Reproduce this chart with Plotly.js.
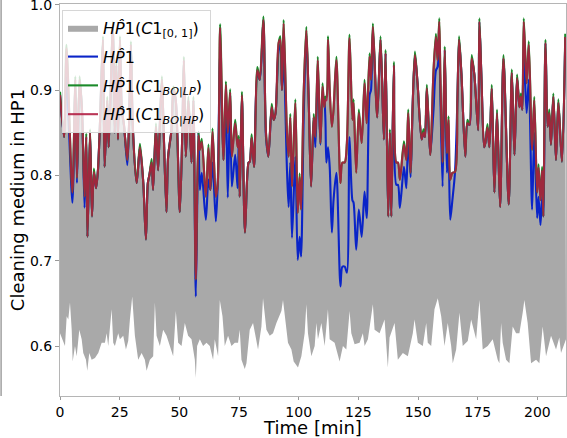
<!DOCTYPE html>
<html>
<head>
<meta charset="utf-8">
<script src="https://cdn.plot.ly/plotly-3.0.1.min.js"></script>
<style>html,body{margin:0;padding:0;background:#fff}#chart{width:567px;height:438px}</style>
</head>
<body>
<div id="chart"></div>
<script>
// Time [min] for the model curves
const time = [0, 1.7, 2.7, 5.2, 6.4, 7.1, 8.2, 9.2, 10.3, 11.0, 11.5, 12.6, 13.4, 14.2, 15.1, 15.9, 16.7, 18.0, 18.7, 19.8, 20.4, 22.2, 22.9, 23.6, 24.3, 25.1, 25.9, 26.8, 28.2, 28.9, 29.7, 30.5, 32.1, 33.5, 34.9, 36.0, 36.8, 37.5, 38.4, 39.0, 40.2, 41.1, 41.8, 42.7, 43.3, 44.6, 45.3, 46.7, 47.5, 48.5, 50.2, 51.3, 51.9, 52.7, 53.8, 55.1, 55.9, 56.9, 58.0, 58.6, 59.4, 61.1, 62.2, 63.0, 63.9, 65.3, 66.1, 67.1, 68.5, 69.5, 70.3, 71.3, 72.0, 73.4, 74.4, 74.9, 75.3, 76.2, 77.5, 79.0, 79.5, 80.3, 81.3, 82.7, 83.7, 85.2, 86.3, 87.3, 88.7, 89.5, 90.3, 91.6, 92.3, 93.0, 93.7, 95.1, 95.8, 96.5, 97.2, 98.6, 99.6, 100.4, 101.0, 102.1, 103.2, 104.2, 105.2, 106.3, 107.0, 108.0, 109.1, 110.0, 110.7, 111.2, 111.6, 112.3, 113.0, 113.9, 114.6, 115.8, 117.5, 118.3, 119.3, 120.2, 121.3, 122.5, 123.0, 124.1, 125.2, 126.4, 127.6, 128.5, 129.7, 130.3, 131.1, 132.9, 134.3, 135.7, 136.4, 137.5, 138.2, 138.8, 139.9, 140.9, 141.6, 142.4, 144.1, 145.1, 145.9, 146.9, 147.7, 148.7, 149.8, 151.5, 152.3, 152.9, 153.7, 155.1, 156.5, 157.5, 158.2, 158.9, 159.4, 160.3, 161.2, 162.1, 162.8, 163.5, 164.4, 165.5, 166.5, 167.2, 168.2, 169.8, 170.7, 171.6, 172.5, 173.6, 175.2, 175.7, 176.6, 177.7, 178.2, 179.1, 179.9, 180.9, 182.0, 183.1, 184.4, 185.8, 188.0, 189.3, 190.4, 191.5, 192.5, 193.1, 193.7, 194.3, 195.5, 196.4, 197.8, 198.7, 199.9, 200.5, 201.3, 202.0, 202.5, 203.4, 204.3, 205.0, 205.7, 206.7, 207.8, 208.8, 210.3, 211.7];

// HP1 (C1 BO|HP) – red
const hpBOHP = [0.894, 0.845, 0.949, 0.780, 0.912, 0.797, 0.912, 0.877, 0.775, 0.845, 0.728, 0.850, 0.752, 0.804, 0.785, 0.806, 0.857, 0.959, 0.810, 0.888, 0.833, 0.976, 0.850, 0.929, 0.842, 0.959, 0.877, 0.859, 0.818, 0.857, 0.953, 0.857, 0.791, 0.833, 0.791, 0.725, 0.791, 0.801, 0.815, 0.783, 0.857, 0.806, 0.857, 0.912, 0.865, 0.757, 0.822, 0.853, 0.900, 0.888, 0.757, 0.857, 0.935, 0.822, 0.888, 0.815, 0.888, 0.678, 0.847, 0.830, 0.839, 0.775, 0.832, 0.783, 0.851, 0.775, 0.791, 0.973, 0.818, 0.906, 0.850, 0.897, 0.822, 0.861, 0.833, 0.842, 0.775, 0.894, 0.733, 0.815, 0.816, 0.844, 0.810, 0.923, 0.912, 0.982, 0.850, 0.822, 0.880, 0.865, 0.873, 0.955, 0.959, 0.900, 0.978, 0.850, 0.822, 0.868, 0.787, 0.885, 0.756, 0.798, 0.760, 0.897, 0.970, 0.888, 0.787, 0.868, 0.845, 0.935, 0.838, 0.904, 0.880, 0.888, 0.888, 0.959, 0.900, 0.857, 0.877, 0.935, 0.791, 0.815, 0.815, 0.838, 0.961, 0.865, 0.885, 0.803, 0.873, 0.838, 0.908, 0.861, 0.939, 0.912, 0.974, 0.868, 0.959, 0.842, 0.943, 0.752, 0.850, 0.752, 0.929, 0.815, 0.815, 0.795, 0.836, 0.818, 0.873, 0.803, 0.877, 0.941, 0.908, 0.842, 0.850, 0.845, 0.902, 0.824, 0.923, 0.962, 0.935, 0.980, 0.912, 0.815, 0.947, 0.826, 0.865, 0.795, 0.803, 0.804, 0.888, 0.959, 0.918, 0.822, 0.861, 0.859, 0.937, 0.918, 0.853, 0.980, 0.912, 0.833, 0.838, 0.856, 0.833, 0.902, 0.780, 0.873, 0.763, 0.937, 0.766, 0.920, 0.824, 0.914, 0.880, 0.892, 0.877, 0.980, 0.908, 0.953, 0.830, 0.888, 0.780, 0.809, 0.771, 0.806, 0.752, 0.955, 0.857, 0.873, 0.836, 0.892, 0.818, 0.885, 0.816, 0.962];

// HP1 (C1 BO|LP) – green
const hpBOLP = [0.898, 0.845, 0.953, 0.780, 0.916, 0.797, 0.916, 0.877, 0.775, 0.849, 0.728, 0.854, 0.752, 0.808, 0.785, 0.806, 0.857, 0.963, 0.810, 0.892, 0.833, 0.980, 0.850, 0.933, 0.842, 0.963, 0.877, 0.859, 0.818, 0.857, 0.957, 0.857, 0.791, 0.837, 0.791, 0.725, 0.791, 0.801, 0.819, 0.783, 0.861, 0.806, 0.857, 0.916, 0.865, 0.757, 0.822, 0.853, 0.904, 0.888, 0.757, 0.857, 0.939, 0.822, 0.892, 0.815, 0.892, 0.678, 0.851, 0.830, 0.843, 0.775, 0.836, 0.783, 0.855, 0.775, 0.791, 0.977, 0.818, 0.910, 0.850, 0.901, 0.822, 0.865, 0.833, 0.846, 0.775, 0.898, 0.733, 0.815, 0.816, 0.848, 0.810, 0.927, 0.912, 0.986, 0.850, 0.822, 0.884, 0.865, 0.873, 0.955, 0.963, 0.900, 0.982, 0.850, 0.822, 0.872, 0.787, 0.889, 0.756, 0.802, 0.760, 0.897, 0.974, 0.888, 0.787, 0.872, 0.845, 0.939, 0.838, 0.908, 0.880, 0.892, 0.892, 0.963, 0.900, 0.857, 0.877, 0.939, 0.791, 0.815, 0.815, 0.838, 0.965, 0.865, 0.889, 0.803, 0.877, 0.838, 0.912, 0.861, 0.943, 0.912, 0.978, 0.868, 0.963, 0.842, 0.947, 0.752, 0.854, 0.752, 0.933, 0.815, 0.815, 0.795, 0.840, 0.818, 0.877, 0.803, 0.877, 0.945, 0.908, 0.842, 0.854, 0.845, 0.906, 0.824, 0.923, 0.966, 0.935, 0.984, 0.912, 0.815, 0.951, 0.826, 0.869, 0.795, 0.803, 0.804, 0.888, 0.963, 0.918, 0.822, 0.865, 0.859, 0.941, 0.918, 0.853, 0.984, 0.912, 0.833, 0.838, 0.860, 0.833, 0.906, 0.780, 0.877, 0.763, 0.941, 0.766, 0.924, 0.824, 0.918, 0.880, 0.896, 0.877, 0.984, 0.908, 0.957, 0.830, 0.892, 0.780, 0.813, 0.771, 0.810, 0.752, 0.959, 0.857, 0.877, 0.836, 0.896, 0.818, 0.889, 0.816, 0.966];

// HP1 – blue
const hpBase = [0.894, 0.845, 0.915, 0.768, 0.912, 0.791, 0.912, 0.877, 0.762, 0.845, 0.728, 0.850, 0.752, 0.804, 0.785, 0.806, 0.857, 0.959, 0.810, 0.888, 0.833, 0.976, 0.850, 0.929, 0.842, 0.959, 0.877, 0.859, 0.812, 0.857, 0.953, 0.857, 0.791, 0.833, 0.791, 0.725, 0.791, 0.801, 0.815, 0.783, 0.857, 0.806, 0.857, 0.912, 0.865, 0.757, 0.822, 0.853, 0.900, 0.888, 0.757, 0.857, 0.935, 0.822, 0.888, 0.815, 0.888, 0.658, 0.851, 0.783, 0.803, 0.748, 0.795, 0.783, 0.815, 0.746, 0.791, 0.944, 0.818, 0.888, 0.774, 0.894, 0.787, 0.824, 0.785, 0.842, 0.775, 0.894, 0.733, 0.815, 0.816, 0.844, 0.810, 0.918, 0.912, 0.982, 0.845, 0.822, 0.880, 0.865, 0.873, 0.947, 0.953, 0.900, 0.939, 0.806, 0.763, 0.815, 0.727, 0.822, 0.701, 0.728, 0.705, 0.868, 0.964, 0.888, 0.787, 0.868, 0.833, 0.923, 0.836, 0.892, 0.888, 0.865, 0.815, 0.833, 0.810, 0.733, 0.771, 0.803, 0.670, 0.693, 0.693, 0.686, 0.845, 0.771, 0.768, 0.713, 0.760, 0.728, 0.781, 0.750, 0.894, 0.900, 0.970, 0.868, 0.959, 0.842, 0.943, 0.752, 0.850, 0.752, 0.929, 0.789, 0.789, 0.762, 0.810, 0.785, 0.847, 0.798, 0.877, 0.941, 0.908, 0.842, 0.850, 0.845, 0.902, 0.824, 0.877, 0.923, 0.927, 0.949, 0.888, 0.787, 0.947, 0.803, 0.830, 0.748, 0.771, 0.804, 0.888, 0.959, 0.918, 0.822, 0.861, 0.859, 0.937, 0.918, 0.853, 0.980, 0.912, 0.833, 0.838, 0.856, 0.833, 0.902, 0.780, 0.873, 0.763, 0.937, 0.766, 0.920, 0.824, 0.914, 0.880, 0.892, 0.877, 0.943, 0.873, 0.912, 0.760, 0.850, 0.750, 0.775, 0.742, 0.775, 0.752, 0.955, 0.857, 0.873, 0.836, 0.892, 0.818, 0.885, 0.816, 0.962];

// Lower edge of the C1[0,1] band
const bandTime = [0, 1.38, 2.09, 2.80, 3.47, 4.18, 4.90, 5.31, 6.28, 6.99, 8.08, 9.08, 9.75, 10.88, 11.42, 12.26, 13.26, 14.64, 16.03, 17.45, 18.83, 19.54, 20.21, 21.63, 22.30, 23.01, 24.39, 25.10, 26.49, 27.62, 28.58, 29.29, 30.25, 31.38, 32.76, 34.18, 35.56, 36.28, 37.66, 39.04, 39.75, 40.46, 41.84, 43.22, 44.64, 46.03, 47.41, 48.54, 49.50, 50.92, 52.30, 53.68, 55.10, 56.49, 56.90, 57.45, 58.58, 59.96, 61.38, 62.76, 64.14, 64.85, 66.23, 66.95, 68.08, 69.04, 70.42, 71.84, 73.22, 74.60, 75.31, 76.03, 77.41, 78.12, 79.50, 80.88, 82.97, 84.39, 85.06, 86.49, 87.87, 89.25, 90.67, 92.76, 93.43, 95.52, 96.95, 97.91, 99.71, 101.13, 102.51, 103.22, 103.89, 105.31, 106.70, 107.41, 108.08, 109.50, 110.88, 112.26, 112.97, 115.06, 116.44, 117.15, 118.54, 119.96, 121.34, 122.05, 123.43, 125.52, 126.90, 127.62, 129.00, 131.09, 131.80, 133.89, 135.98, 136.69, 137.36, 138.08, 140.17, 141.55, 143.64, 145.73, 147.82, 148.54, 149.92, 152.01, 153.43, 154.10, 155.52, 156.90, 158.28, 159.71, 161.09, 162.47, 163.89, 164.56, 165.98, 167.36, 168.74, 170.84, 172.26, 174.35, 175.73, 177.11, 179.21, 181.30, 183.39, 184.10, 184.81, 185.48, 186.90, 188.28, 189.67, 191.09, 192.47, 193.85, 194.56, 195.94, 197.36, 199.46, 200.84, 202.22, 203.64, 205.73, 207.82, 209.20, 209.91, 212.01];
const bandLow = [0.615, 0.604, 0.600, 0.635, 0.631, 0.651, 0.619, 0.582, 0.600, 0.588, 0.619, 0.608, 0.592, 0.584, 0.571, 0.592, 0.584, 0.586, 0.592, 0.604, 0.604, 0.615, 0.600, 0.643, 0.604, 0.600, 0.615, 0.608, 0.612, 0.596, 0.606, 0.631, 0.658, 0.612, 0.584, 0.592, 0.584, 0.571, 0.584, 0.588, 0.651, 0.612, 0.600, 0.619, 0.612, 0.600, 0.588, 0.641, 0.604, 0.600, 0.627, 0.612, 0.608, 0.584, 0.563, 0.600, 0.608, 0.600, 0.604, 0.600, 0.584, 0.608, 0.588, 0.654, 0.635, 0.600, 0.612, 0.600, 0.604, 0.604, 0.619, 0.584, 0.573, 0.580, 0.619, 0.627, 0.596, 0.623, 0.656, 0.619, 0.612, 0.615, 0.627, 0.641, 0.654, 0.604, 0.596, 0.582, 0.575, 0.588, 0.615, 0.649, 0.615, 0.588, 0.600, 0.627, 0.608, 0.627, 0.600, 0.643, 0.608, 0.604, 0.588, 0.582, 0.600, 0.596, 0.641, 0.615, 0.602, 0.604, 0.615, 0.600, 0.608, 0.649, 0.619, 0.615, 0.631, 0.600, 0.575, 0.610, 0.627, 0.584, 0.592, 0.588, 0.615, 0.631, 0.604, 0.600, 0.627, 0.604, 0.600, 0.643, 0.656, 0.635, 0.600, 0.627, 0.600, 0.580, 0.596, 0.639, 0.600, 0.606, 0.631, 0.608, 0.654, 0.596, 0.600, 0.608, 0.584, 0.580, 0.627, 0.604, 0.584, 0.580, 0.623, 0.615, 0.615, 0.639, 0.654, 0.627, 0.580, 0.584, 0.580, 0.623, 0.588, 0.612, 0.596, 0.610, 0.592, 0.608];

const legendNames = [
  '<i>HP&#770;</i>1(<i>C</i>1<sub>[0, 1]</sub>)',
  '<i>HP&#770;</i>1',
  '<i>HP&#770;</i>1(<i>C</i>1<sub><i>BO|LP</i></sub>)',
  '<i>HP&#770;</i>1(<i>C</i>1<sub><i>BO|HP</i></sub>)'
];
const xTicks = [0, 25, 50, 75, 100, 125, 150, 175, 200];
const yTicks = [0.6, 0.7, 0.8, 0.9, 1.0];

const traces = [
  {x: bandTime, y: bandLow, type: 'scatter', mode: 'lines', line: {width: 0, color: '#a9a9a9'},
   showlegend: false, hoverinfo: 'skip', legendgroup: 'g0'},
  {x: time, y: hpBOLP, type: 'scatter', mode: 'lines', fill: 'tonexty', fillcolor: '#a9a9a9', legendgroup: 'g0',
   line: {width: 0, color: '#a9a9a9', shape: 'spline', smoothing: 0.8}, name: legendNames[0]},
  {x: time, y: hpBase, type: 'scatter', mode: 'lines', name: legendNames[1], legendgroup: 'g1',
   line: {color: '#0a24c8', width: 2.1, shape: 'spline', smoothing: 0.8}},
  {x: time, y: hpBOLP, type: 'scatter', mode: 'lines', name: legendNames[2], legendgroup: 'g2',
   line: {color: '#1b8a2a', width: 2.1, shape: 'spline', smoothing: 0.8}},
  {x: time, y: hpBOHP, type: 'scatter', mode: 'lines', name: legendNames[3], legendgroup: 'g3', opacity: 0.88,
   line: {color: '#b01a40', width: 2.1, shape: 'spline', smoothing: 0.8}}
];

const font = {family: 'DejaVu Sans, sans-serif', color: '#000'};
const layout = {
  width: 567, height: 438,
  margin: {l: 60, r: 1, t: 4, b: 42},
  paper_bgcolor: '#fff', plot_bgcolor: '#fff',
  font: Object.assign({size: 14}, font),
  showlegend: true,
  legend: {x: 0.004, y: 0.985, xanchor: 'left', yanchor: 'top', traceorder: 'grouped',
    bgcolor: 'rgba(255,255,255,0.8)', bordercolor: '#d6d6d6', borderwidth: 1,
    font: Object.assign({size: 16}, font), tracegroupgap: 5},
  xaxis: {range: [0, 212], tickvals: xTicks, ticks: 'outside', ticklen: 3, tickcolor: '#999',
    showgrid: false, zeroline: false, showline: true, mirror: true, linecolor: '#b5b5b5', linewidth: 1,
    tickfont: Object.assign({size: 14}, font),
    title: {text: 'Time [min]', font: Object.assign({size: 18}, font), standoff: 7}},
  yaxis: {range: [0.5415, 1.0008], tickvals: yTicks, tickformat: '.1f', ticks: 'outside', ticklen: 4, tickcolor: '#999',
    ticklabeloverflow: 'allow',
    showgrid: false, zeroline: false, showline: true, mirror: true, linecolor: '#b5b5b5', linewidth: 1,
    tickfont: Object.assign({size: 14}, font),
    title: {text: 'Cleaning medium in HP1', font: Object.assign({size: 18}, font), standoff: 0}},
  shapes: [{type: 'line', xref: 'paper', yref: 'paper', x0: -0.1164, x1: -0.1164, y0: 0, y1: 1.0102,
    line: {color: '#a0a0a0', width: 1.5}}]
};

Plotly.newPlot('chart', traces, layout, {staticPlot: true, displayModeBar: false});
</script>
</body>
</html>
